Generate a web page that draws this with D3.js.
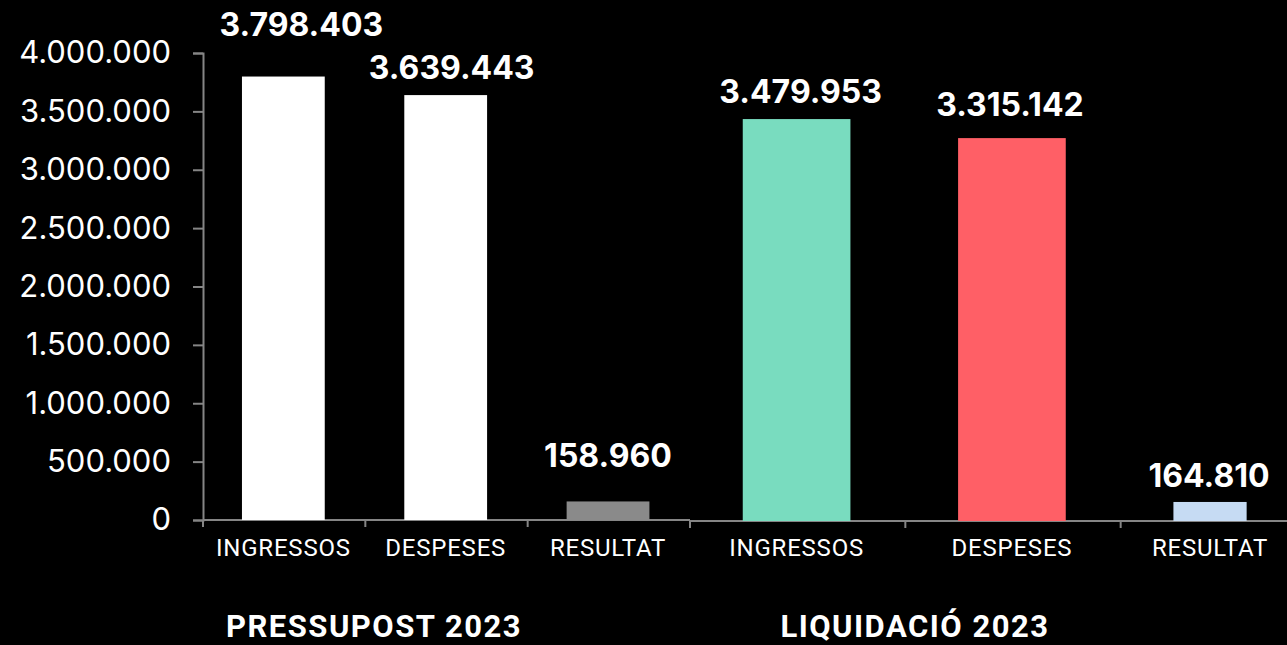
<!DOCTYPE html>
<html>
<head>
<meta charset="utf-8">
<script src="https://cdn.jsdelivr.net/npm/d3@7"></script>
<style>
  html, body { margin: 0; padding: 0; background: #000; }
  svg { display: block; }
</style>
</head>
<body>
<svg id="chart"></svg>
<script>
// chart data
const categories = ["INGRESSOS", "DESPESES", "RESULTAT"];
const groupTitles = ["PRESSUPOST 2023", "LIQUIDACIÓ 2023"];
const pressupost = [3798403, 3639443, 158960];
const liquidacio = [3479953, 3315142, 164810];
const yTicks = [0, 500000, 1000000, 1500000, 2000000, 2500000, 3000000, 3500000, 4000000];

const pressupostColors = ["#ffffff", "#ffffff", "#8a8a8a"];
const liquidacioColors = ["#79dcbf", "#ff5f66", "#c6dbf3"];

const width = 1287;
const height = 645;
const axisColor = "#858585";

const loc = d3.formatLocale({ decimal: ",", thousands: ".", grouping: [3], currency: ["", " €"] });
const fmt = loc.format(",d");

const svg = d3.select("#chart").attr("width", width).attr("height", height);
svg.append("rect").attr("width", width).attr("height", height).attr("fill", "#000");

// two panels glued together, each with its own scale
const yLeft = d3.scaleLinear().domain([0, 4000000]).range([520, 53]);
const yRight = d3.scaleLinear().domain([0, 4000000]).range([521, 59]);

const xLeft = d3.scaleBand().domain(categories).range([203, 690]).padding(0);
const xRight = d3.scaleBand().domain(categories).range([690, 1336]).padding(0);

// Y axis
const yAxis = svg.append("g")
  .attr("transform", "translate(203,0)")
  .call(d3.axisLeft(yLeft).tickValues(yTicks).tickFormat(fmt).tickSize(10).tickPadding(22));
yAxis.select(".domain").attr("stroke", axisColor).attr("stroke-width", 2);
yAxis.selectAll(".tick line").attr("stroke", axisColor).attr("stroke-width", 2);
yAxis.selectAll(".tick text")
  .attr("fill", "#fff")
  .style("font-family", "Inter, 'Noto Sans', sans-serif")
  .style("font-size", "31px")
  .style("font-weight", 400);

// baseline pieces + boundary ticks
function baseline(x, y, x0, x1) {
  svg.append("line")
    .attr("x1", x0).attr("x2", x1)
    .attr("y1", y(0)).attr("y2", y(0))
    .attr("stroke", axisColor).attr("stroke-width", 2);
  const edges = x.domain().map(d => x(d));
  svg.selectAll(null)
    .data(edges.filter(e => e <= width))
    .enter().append("line")
    .attr("x1", d => d).attr("x2", d => d)
    .attr("y1", y(0)).attr("y2", y(0) + 7)
    .attr("stroke", axisColor).attr("stroke-width", 2);
}
baseline(xLeft, yLeft, 203, 690);
baseline(xRight, yRight, 689, width);

// bar geometry (fractions of the slot) and label tweaks
const leftBar = { offset: 0.24, widths: [0.51, 0.51, 0.51] };
const rightBar = { offset: 0.245, widths: [0.5, 0.5, 0.34] };
const leftLabel = { raise: [41, 16, 34], dx: [18, 6, 0] };
const rightLabel = { raise: [16, 22, 15], dx: [4, -2, -1] };

const catFont = "Roboto, 'Liberation Sans', sans-serif";

function drawGroup(values, colors, x, y, bar, lab, title, titleX) {
  const g = svg.append("g");
  const bx = (d, i) => x(categories[i]) + x.bandwidth() * bar.offset;
  const bw = (d, i) => x.bandwidth() * bar.widths[i];
  const cx = (d, i) => bx(d, i) + bw(d, i) / 2;

  g.selectAll("rect")
    .data(values)
    .enter().append("rect")
    .attr("x", bx)
    .attr("y", d => y(d))
    .attr("width", bw)
    .attr("height", d => y(0) - y(d))
    .attr("fill", (d, i) => colors[i]);

  g.selectAll(".val")
    .data(values)
    .enter().append("text")
    .attr("class", "val")
    .attr("x", (d, i) => cx(d, i) + lab.dx[i])
    .attr("y", (d, i) => y(d) - lab.raise[i])
    .attr("text-anchor", "middle")
    .attr("fill", "#fff")
    .style("font-family", "Inter, 'Noto Sans', sans-serif")
    .style("font-size", "32px")
    .style("font-weight", 700)
    .text(d => fmt(d));

  g.selectAll(".cat")
    .data(values)
    .enter().append("text")
    .attr("class", "cat")
    .attr("x", cx)
    .attr("y", 556)
    .attr("text-anchor", "middle")
    .attr("fill", "#fff")
    .style("font-family", catFont)
    .style("font-size", "24px")
    .style("letter-spacing", "0.8px")
    .text((d, i) => categories[i]);

  g.append("text")
    .attr("x", titleX)
    .attr("y", 637)
    .attr("text-anchor", "middle")
    .attr("fill", "#fff")
    .style("font-family", catFont)
    .style("font-size", "31px")
    .style("font-weight", 700)
    .style("letter-spacing", "1.5px")
    .text(title);
}

drawGroup(pressupost, pressupostColors, xLeft, yLeft, leftBar, leftLabel, groupTitles[0], 374);
drawGroup(liquidacio, liquidacioColors, xRight, yRight, rightBar, rightLabel, groupTitles[1], 915);
</script>
</body>
</html>
